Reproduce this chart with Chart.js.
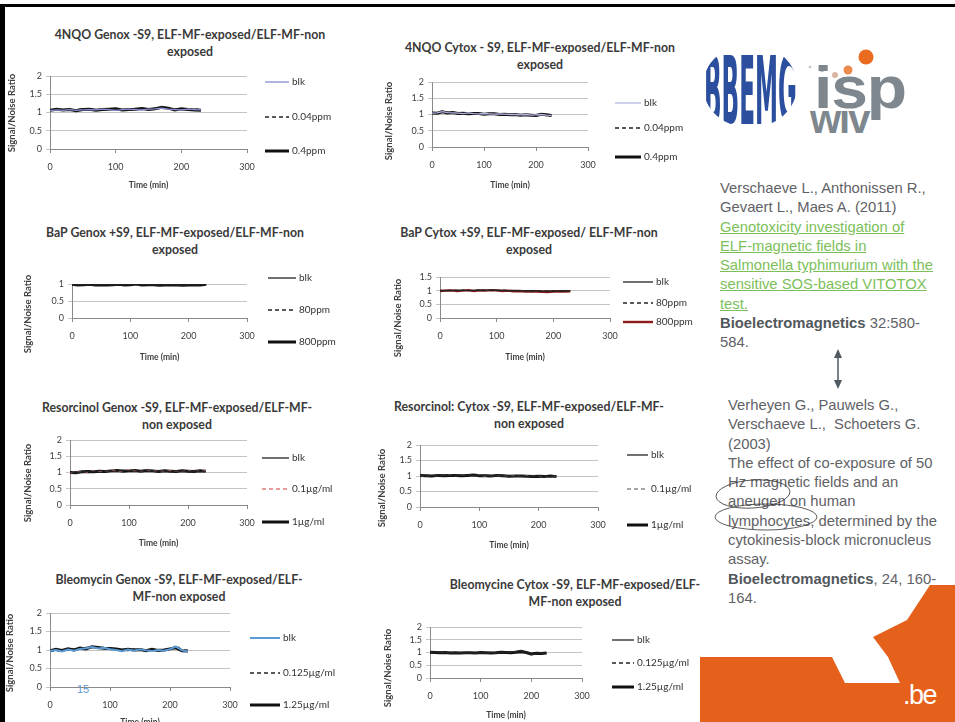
<!DOCTYPE html>
<html>
<head>
<meta charset="utf-8">
<script src="https://cdn.jsdelivr.net/npm/chart.js@4.4.1/dist/chart.umd.min.js"></script>
<style>
  html, body { margin: 0; padding: 0; background: #fff; }
  body { width: 955px; height: 722px; position: relative; overflow: hidden; font-family: "Liberation Sans", Arial, sans-serif; }
  .ctitle { position: absolute; transform: translateX(-50%); font: bold 12.3px Lato, sans-serif; color: #3a3a3a; text-align: center; line-height: 16.5px; white-space: nowrap; }
  .ref { position: absolute; font-size: 14.8px; line-height: 19.3px; color: #5f6266; white-space: nowrap; }
  .ref a { color: #7cbf5a; text-decoration: underline; }
  .ref b { color: #52585c; }
  .frame { position: absolute; background: #000; }
  .pnum { position: absolute; left: 77px; top: 683px; font-size: 11px; color: #5b9bd5; }
</style>
</head>
<body>

<div class="ref" style="left:720px;top:179px;">
Verschaeve L., Anthonissen R.,<br>
Gevaert L., Maes A. (2011)<br>
<a>Genotoxicity investigation of<br>
ELF-magnetic fields in<br>
Salmonella typhimurium with the<br>
sensitive SOS-based VITOTOX<br>
test.</a><br>
<b>Bioelectromagnetics</b> 32:580-<br>
584.
</div>

<div class="ref" style="left:728px;top:396px;">
Verheyen G., Pauwels G.,<br>
Verschaeve L.,&nbsp; Schoeters G.<br>
(2003)<br>
The effect of co-exposure of 50<br>
Hz magnetic fields and an<br>
aneugen on human<br>
lymphocytes, determined by the<br>
cytokinesis-block micronucleus<br>
assay.<br>
<b>Bioelectromagnetics</b>, 24, 160-<br>
164.
</div>

<svg width="955" height="722" style="position:absolute;left:0;top:0;pointer-events:none">
  <defs>
    <clipPath id="oval"><ellipse cx="750" cy="86" rx="47" ry="42"/></clipPath>
  </defs>
  <g clip-path="url(#oval)">
    <text transform="translate(704,124) scale(1,3.6)" font-family="DejaVu Sans Condensed" font-weight="bold" font-size="26" fill="#2b4f9e" textLength="93" lengthAdjust="spacingAndGlyphs">BBEMG</text>
  </g>
  <circle cx="810" cy="67" r="1.5" fill="#c8ccd2"/>
  <circle cx="822" cy="70" r="2.2" fill="#b9bec6"/>
  <circle cx="835" cy="75" r="3" fill="#d9b7a3"/>
  <circle cx="848" cy="70" r="4.5" fill="#ec8a4e"/>
  <circle cx="866" cy="57" r="7.5" fill="#ea6a1f"/>
  <text x="814" y="108" font-family="Liberation Sans" font-weight="bold" font-size="60" fill="#7d878d" letter-spacing="-1" textLength="92" lengthAdjust="spacingAndGlyphs">isp</text>
  <text x="810" y="133" font-family="Liberation Sans" font-weight="bold" font-size="40" fill="#7d878d" letter-spacing="-2">wiv</text>

  <line x1="838" y1="356" x2="838" y2="382" stroke="#4e5a60" stroke-width="1.5"/>
  <polygon points="838,349 834,358 842,358" fill="#4e5a60"/>
  <polygon points="838,389 834,380 842,380" fill="#4e5a60"/>

  <ellipse cx="753" cy="494" rx="37" ry="14" fill="none" stroke="#333" stroke-width="0.8" transform="rotate(-4 753 494)"/>
  <ellipse cx="766" cy="517" rx="51" ry="13" fill="none" stroke="#333" stroke-width="0.8"/>

  <polygon points="700,657 832,657 845,683 900,683 888,657 873,637 907,620 930,585 955,585 955,722 700,722" fill="#e5601a"/>
  <text x="903" y="704" font-family="Liberation Sans" font-size="27" fill="#fff" letter-spacing="-1.5">.be</text>
</svg>

<div class="pnum">15</div>

<script>
// time axis (min)
const times = [0, 10, 20, 30, 40, 50, 60, 70, 80, 90, 100, 110, 120, 130, 140, 150, 160, 170, 180, 190, 200, 210, 220, 230];

// 4NQO Genox -S9
const nqoGenoxBlk  = [1.05,1.07,1.06,1.08,1.06,1.07,1.08,1.07,1.09,1.08,1.06,1.08,1.09,1.08,1.07,1.09,1.10,1.12,1.09,1.08,1.07,1.09,1.08,1.07];
const nqoGenoxLow  = [1.08,1.05,1.09,1.07,1.08,1.10,1.06,1.09,1.07,1.10,1.08,1.07,1.10,1.11,1.09,1.08,1.12,1.16,1.11,1.10,1.08,1.07,1.10,1.08];
const nqoGenoxHigh = [1.06,1.09,1.07,1.08,1.05,1.08,1.09,1.06,1.08,1.09,1.10,1.07,1.08,1.09,1.11,1.08,1.10,1.14,1.12,1.07,1.10,1.08,1.07,1.06];
// 4NQO Cytox -S9
const nqoCytoxBlk  = [1.04,1.05,1.09,1.06,1.05,1.04,1.03,1.05,1.03,1.02,1.03,1.02,1.01,1.02,1.01,1.00,1.00,0.99,1.00,0.98,0.99,1.00,0.98,0.97];
const nqoCytoxLow  = [1.03,1.06,1.11,1.07,1.04,1.06,1.04,1.03,1.04,1.02,1.02,1.03,1.01,1.01,1.00,1.01,0.99,0.99,0.98,0.99,0.98,0.99,0.97,0.98];
const nqoCytoxHigh = [1.05,1.04,1.08,1.05,1.06,1.03,1.04,1.02,1.03,1.03,1.01,1.02,1.02,1.00,1.01,0.99,1.00,0.98,0.99,0.98,0.97,1.01,0.99,0.97];
// BaP Genox +S9
const bapGenoxBlk  = [0.99,0.98,0.99,0.97,0.98,0.99,0.98,0.97,0.98,0.99,0.98,1.00,0.99,0.98,0.97,0.98,0.97,0.98,0.98,0.97,0.98,0.97,0.98,0.99];
const bapGenoxLow  = [0.98,0.99,0.97,0.98,0.99,0.97,0.98,0.99,0.97,0.98,0.99,0.99,0.98,0.97,0.98,0.97,0.98,0.97,0.96,0.98,0.97,0.98,0.99,0.98];
const bapGenoxHigh = [0.99,0.97,0.98,0.99,0.97,0.98,0.97,0.98,0.99,0.97,0.98,1.00,0.97,0.98,0.98,0.96,0.97,0.98,0.97,0.96,0.97,0.98,0.97,0.99];
// BaP Cytox +S9
const bapCytoxBlk  = [1.00,1.01,1.00,1.02,1.01,1.00,1.01,1.02,1.01,1.03,1.02,1.01,1.00,1.01,1.00,0.99,1.00,0.99,0.98,0.99,0.98,0.99,1.00,0.99];
const bapCytoxLow  = [1.01,1.00,1.02,1.00,1.02,1.01,1.00,1.03,1.02,1.01,1.00,1.02,1.01,0.99,1.00,1.00,0.98,0.99,0.99,0.97,0.99,0.98,0.99,1.00];
const bapCytoxHigh = [0.99,1.00,1.01,0.99,1.00,1.02,0.99,1.01,1.00,1.02,1.01,0.99,1.00,0.98,0.99,0.97,0.98,0.97,0.96,0.95,0.97,0.98,0.97,0.98];
// Resorcinol Genox -S9
const resGenoxBlk  = [0.98,1.00,1.02,1.04,1.03,1.05,1.06,1.04,1.05,1.07,1.05,1.04,1.06,1.05,1.04,1.05,1.04,1.03,1.05,1.04,1.03,1.04,1.03,1.04];
const resGenoxLow  = [0.99,1.01,1.03,1.02,1.04,1.03,1.05,1.07,1.04,1.06,1.08,1.05,1.05,1.07,1.04,1.06,1.03,1.05,1.04,1.03,1.05,1.03,1.04,1.05];
const resGenoxHigh = [1.00,0.99,1.02,1.03,1.02,1.04,1.03,1.05,1.06,1.04,1.05,1.06,1.04,1.06,1.05,1.03,1.05,1.04,1.03,1.05,1.04,1.03,1.05,1.04];
// Resorcinol Cytox -S9
const resCytoxBlk  = [1.00,1.02,1.01,1.02,1.03,1.02,1.03,1.02,1.03,1.02,1.01,1.02,1.01,1.00,1.01,1.00,0.99,1.00,0.99,1.00,0.98,0.97,0.99,1.00];
const resCytoxLow  = [1.01,1.00,1.03,1.01,1.02,1.03,1.01,1.03,1.02,1.01,1.02,1.00,1.02,1.01,1.00,1.01,1.00,0.99,1.00,0.99,0.99,0.96,0.98,0.99];
const resCytoxHigh = [1.02,1.01,1.00,1.02,1.01,1.02,1.02,1.01,1.02,1.03,1.01,1.01,1.00,1.02,1.01,0.99,1.00,1.00,0.99,0.98,0.99,0.98,1.00,0.98];
// Bleomycin Genox -S9
const bleoGenoxBlk  = [0.97,1.00,0.96,1.01,0.98,1.03,1.05,1.08,1.04,1.06,1.02,1.00,0.97,1.01,0.98,1.02,0.99,0.97,1.00,0.98,1.02,1.09,0.99,0.96];
const bleoGenoxLow  = [1.00,0.96,1.01,0.98,1.04,1.02,1.07,1.10,1.05,1.03,1.06,0.99,1.02,0.98,1.03,0.99,1.01,1.00,0.97,1.01,1.00,1.12,1.01,0.98];
const bleoGenoxHigh = [0.98,1.02,0.99,1.03,1.00,1.05,1.03,1.09,1.07,1.05,1.04,1.03,1.00,1.02,1.00,1.01,0.98,1.02,0.99,1.00,1.03,1.06,0.98,0.97];
// Bleomycine Cytox -S9
const bleoCytoxBlk  = [1.00,1.01,1.00,0.99,1.00,0.99,0.98,0.99,0.98,0.99,0.98,0.99,1.00,0.99,1.00,1.01,1.02,1.04,1.08,1.03,0.92,0.96,0.98,0.97];
const bleoCytoxLow  = [0.99,1.00,1.01,1.00,0.99,0.98,0.99,0.98,0.99,0.98,0.99,0.98,0.99,1.00,0.99,1.00,1.01,1.02,1.05,0.98,0.90,0.95,0.97,0.98];
const bleoCytoxHigh = [1.01,1.00,0.99,1.00,0.98,0.99,0.98,0.99,0.99,0.98,1.00,0.99,0.98,0.99,1.01,1.00,0.99,1.01,1.03,1.00,0.94,0.97,0.96,0.98];

const chartTitles = [
  ['4NQO Genox -S9, ELF-MF-exposed/ELF-MF-non', 'exposed'],
  ['4NQO Cytox - S9, ELF-MF-exposed/ELF-MF-non', 'exposed'],
  ['BaP Genox +S9, ELF-MF-exposed/ELF-MF-non', 'exposed'],
  ['BaP Cytox +S9, ELF-MF-exposed/ ELF-MF-non', 'exposed'],
  ['Resorcinol Genox -S9, ELF-MF-exposed/ELF-MF-', 'non exposed'],
  ['Resorcinol: Cytox -S9, ELF-MF-exposed/ELF-MF-', 'non exposed'],
  ['Bleomycin Genox -S9, ELF-MF-exposed/ELF-', 'MF-non exposed'],
  ['Bleomycine Cytox -S9, ELF-MF-exposed/ELF-', 'MF-non exposed']
];
const seriesLabels = [
  ['blk', '0.04ppm', '0.4ppm'],
  ['blk', '0.04ppm', '0.4ppm'],
  ['blk', '80ppm', '800ppm'],
  ['blk', '80ppm', '800ppm'],
  ['blk', '0.1µg/ml', '1µg/ml'],
  ['blk', '0.1µg/ml', '1µg/ml'],
  ['blk', '0.125µg/ml', '1.25µg/ml'],
  ['blk', '0.125µg/ml', '1.25µg/ml']
];
const seriesValues = [
  [nqoGenoxBlk, nqoGenoxLow, nqoGenoxHigh],
  [nqoCytoxBlk, nqoCytoxLow, nqoCytoxHigh],
  [bapGenoxBlk, bapGenoxLow, bapGenoxHigh],
  [bapCytoxBlk, bapCytoxLow, bapCytoxHigh],
  [resGenoxBlk, resGenoxLow, resGenoxHigh],
  [resCytoxBlk, resCytoxLow, resCytoxHigh],
  [bleoGenoxBlk, bleoGenoxLow, bleoGenoxHigh],
  [bleoCytoxBlk, bleoCytoxLow, bleoCytoxHigh]
];

// styles + layout (page px)
const dash = [4, 3];
const seriesStyles = [
  [{c: '#8a8ad4', w: 1.3}, {c: '#222', w: 1.3, d: dash}, {c: '#111', w: 3}],
  [{c: '#b4b4e4', w: 1.3}, {c: '#222', w: 1.3, d: dash}, {c: '#111', w: 3}],
  [{c: '#222', w: 1.3}, {c: '#222', w: 1.3, d: dash}, {c: '#111', w: 3}],
  [{c: '#222', w: 1.3}, {c: '#222', w: 1.3, d: dash}, {c: '#8b1c1c', w: 2.4}],
  [{c: '#222', w: 1.3}, {c: '#e07b7b', w: 1.3, d: dash}, {c: '#111', w: 3}],
  [{c: '#222', w: 1.3}, {c: '#888', w: 1.3, d: dash}, {c: '#111', w: 3}],
  [{c: '#5b9bd5', w: 2}, {c: '#222', w: 1.3, d: dash}, {c: '#111', w: 3}],
  [{c: '#222', w: 1.3}, {c: '#222', w: 1.3, d: dash}, {c: '#111', w: 3}]
];
const layouts = [
  {L: 50,  R: 247, T: 76,  B: 149, yt: 12,  yc: 113, xt: 185, lx: 265, ll: 24, ly: [82, 117, 151], ymax: 2,   tx: 190, ty: 35},
  {L: 432, R: 588, T: 82,  B: 147, yt: 389, yc: 121, xt: 185, lx: 615, ll: 26, ly: [103, 128, 157], ymax: 2, tx: 540, ty: 48},
  {L: 72,  R: 247, T: 284, B: 318, yt: 28,  yc: 314, xt: 357, lx: 268, ll: 28, ly: [278, 310, 342], ymax: 1, tx: 175, ty: 233},
  {L: 440, R: 610, T: 277, B: 318, yt: 398, yc: 318, xt: 357, lx: 623, ll: 30, ly: [282, 303, 322], ymax: 1.5, tx: 529, ty: 233},
  {L: 70,  R: 247, T: 440, B: 505, yt: 28,  yc: 483, xt: 543, lx: 262, ll: 27, ly: [458, 489, 522], ymax: 2, tx: 177, ty: 408},
  {L: 420, R: 598, T: 445, B: 507, yt: 382, yc: 488, xt: 545, lx: 627, ll: 21, ly: [455, 489, 525], ymax: 2, tx: 529, ty: 407},
  {L: 50,  R: 230, T: 613, B: 687, yt: 10,  yc: 653, xt: 722, lx: 250, ll: 30, ly: [638, 673, 705], ymax: 2, tx: 179, ty: 580},
  {L: 430, R: 582, T: 627, B: 678, yt: 388, yc: 668, xt: 715, lx: 612, ll: 22, ly: [640, 663, 687], ymax: 2, tx: 575, ty: 585}
];

Chart.defaults.font.family = 'Lato';
Chart.defaults.color = '#404040';

// legend next to the plot (one row per dataset) and the rotated y title
const sideLegend = {
  id: 'sideLegend',
  afterDraw(chart, args, opts) {
    const ctx = chart.ctx;
    chart.data.datasets.forEach((ds, i) => {
      const y = opts.ys[i];
      ctx.save();
      ctx.strokeStyle = ds.borderColor;
      ctx.lineWidth = ds.borderWidth;
      ctx.setLineDash(ds.borderDash || []);
      ctx.beginPath();
      ctx.moveTo(opts.x, y);
      ctx.lineTo(opts.x + opts.len, y);
      ctx.stroke();
      ctx.setLineDash([]);
      ctx.fillStyle = '#333';
      ctx.font = '10px Lato';
      ctx.textBaseline = 'middle';
      ctx.fillText(ds.label, opts.x + opts.len + 3, y);
      ctx.restore();
    });
    ctx.save();
    ctx.translate(opts.ytX, opts.ytY);
    ctx.rotate(-Math.PI / 2);
    ctx.fillStyle = '#404040';
    ctx.font = 'bold 9.5px Lato';
    ctx.textAlign = 'center';
    ctx.textBaseline = 'middle';
    ctx.fillText(opts.yTitle, 0, 0);
    ctx.restore();
  }
};

function buildChart(i) {
  const g = layouts[i];
  const left = g.yt - 6;
  const top = Math.min(g.T - 10, g.yc - 48);
  const bottomX = g.xt + 5;
  const bottom = Math.max(bottomX, g.yc + 48);
  const width = g.lx + g.ll + 75 - left, height = bottom - top;

  const t = document.createElement('div');
  t.className = 'ctitle';
  t.style.left = g.tx + 'px';
  t.style.top = (g.ty - 8) + 'px';
  t.innerHTML = chartTitles[i].join('<br>');
  document.body.appendChild(t);

  const box = document.createElement('div');
  box.style.cssText = `position:absolute;left:${left}px;top:${top}px;width:${width}px;height:${height}px`;
  const cv = document.createElement('canvas');
  box.appendChild(cv);
  document.body.appendChild(box);

  const datasets = seriesValues[i].map((vals, k) => {
    const st = seriesStyles[i][k];
    return {
      label: seriesLabels[i][k],
      data: times.map((x, j) => ({x, y: vals[j]})),
      borderColor: st.c, borderWidth: st.w, borderDash: st.d || [],
      pointRadius: 0, tension: 0
    };
  });

  new Chart(cv, {
    type: 'line',
    data: {datasets},
    options: {
      responsive: true, maintainAspectRatio: false, animation: false,
      layout: {padding: {top: g.T - top, right: left + width - g.R, left: 0, bottom: bottom - bottomX}},
      plugins: {
        legend: {display: false}, title: {display: false}, tooltip: {enabled: false},
        sideLegend: {x: g.lx - left, len: g.ll, ys: g.ly.map(y => y - top),
          yTitle: 'Signal/Noise Ratio', ytX: g.yt - left, ytY: g.yc - top}
      },
      scales: {
        x: {
          type: 'linear', min: 0, max: 300,
          ticks: {stepSize: 100, padding: 9, font: {size: 9}},
          grid: {drawOnChartArea: false, tickLength: 4, color: '#8a8a8a'},
          border: {color: '#8a8a8a'},
          title: {display: true, text: 'Time (min)', padding: 0, font: {size: 8.5, weight: 'bold'}},
          afterFit: s => { s.height = bottomX - g.B; s.paddingLeft = 0; s.paddingRight = 0; }
        },
        y: {
          min: 0, max: g.ymax,
          ticks: {stepSize: 0.5, padding: 4, autoSkip: false, font: {size: 9}, callback: v => String(v)},
          grid: {color: '#c4c4c4', tickLength: 4},
          border: {color: '#8a8a8a'},
          afterFit: s => { s.width = g.L - left; s.paddingTop = 0; s.paddingBottom = 0; }
        }
      }
    },
    plugins: [sideLegend]
  });
}

layouts.forEach((g, i) => buildChart(i));

// slide frame (black top and left edges)
const fTop = document.createElement('div');
fTop.className = 'frame';
fTop.style.cssText = 'left:0;top:4px;width:955px;height:3px';
const fLeft = document.createElement('div');
fLeft.className = 'frame';
fLeft.style.cssText = 'left:0;top:4px;width:5px;height:718px';
document.body.appendChild(fTop);
document.body.appendChild(fLeft);
</script>
</body>
</html>
